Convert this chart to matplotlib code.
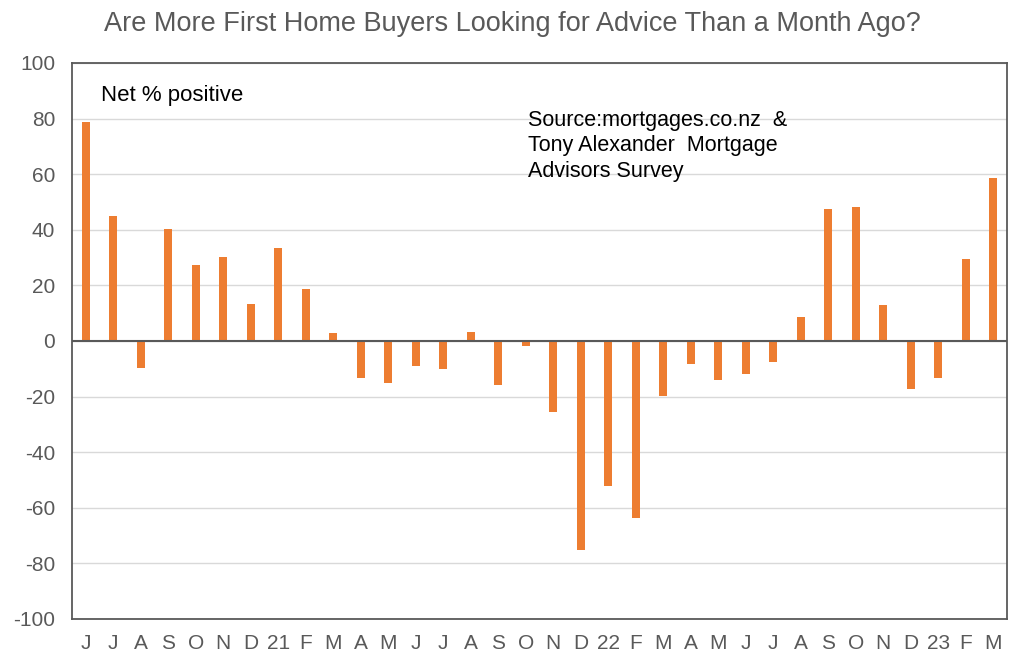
import matplotlib
matplotlib.use("Agg")
import matplotlib.pyplot as plt
import numpy as np

plt.rcParams['font.family'] = ['Liberation Sans', 'DejaVu Sans']

month_labels = ["J", "J", "A", "S", "O", "N", "D", "21", "F", "M",
                "A", "M", "J", "J", "A", "S", "O", "N", "D", "22",
                "F", "M", "A", "M", "J", "J", "A", "S", "O", "N",
                "D", "23", "F", "M"]
net_positive = [78.7, 44.9, -9.6, 40.2, 27.2, 30.2, 13.3, 33.6, 18.6, 2.7,
                -13.4, -15.0, -8.9, -10.1, 3.2, -15.7, -1.7, -25.5, -75.1, -52.1,
                -63.8, -19.9, -8.1, -13.9, -11.9, -7.4, 8.5, 47.4, 48.2, 12.9,
                -17.2, -13.4, 29.5, 58.7]
y_ticks = [-100, -80, -60, -40, -20, 0, 20, 40, 60, 80, 100]

title = "Are More First Home Buyers Looking for Advice Than a Month Ago?"
label_text = "Net % positive"
source_text = "Source:mortgages.co.nz  &\nTony Alexander  Mortgage\nAdvisors Survey"

gray = "#595959"
x = np.arange(len(net_positive))

fig = plt.figure(figsize=(10.24, 6.69), dpi=100)
ax = fig.add_axes([72 / 1024, 1 - 619 / 669, (1007 - 72) / 1024, (619 - 63) / 669])
ax.bar(x, net_positive, width=0.29, color="#ED7D31", zorder=3)
ax.axhline(0, color=gray, linewidth=1.5, zorder=4)
ax.set_xlim(-0.5, len(net_positive) - 0.5)
ax.set_ylim(-100, 100)
ax.set_yticks(y_ticks)
ax.set_yticklabels([str(v) for v in y_ticks], fontsize=15, color=gray)
ax.set_xticks(x)
ax.set_xticklabels(month_labels, fontsize=15, color=gray)
ax.tick_params(axis='both', length=0)
ax.tick_params(axis='x', pad=11)
ax.tick_params(axis='y', pad=12)
ax.grid(axis='y', color="#d9d9d9", linewidth=1, zorder=0)
for s in ax.spines.values():
    s.set_color(gray)
    s.set_linewidth(1.3)

fig.text(0.5, 1 - 24 / 669, title, ha='center', va='center', fontsize=19.5, color=gray)
fig.text(101 / 1024, 1 - 96 / 669, label_text, ha='left', va='center', fontsize=16, color="black")
fig.text(528 / 1024, 1 - 146 / 669, source_text, ha='left', va='center', fontsize=15.5,
         color="black", linespacing=1.27)

fig.savefig("out.png", dpi=100)
